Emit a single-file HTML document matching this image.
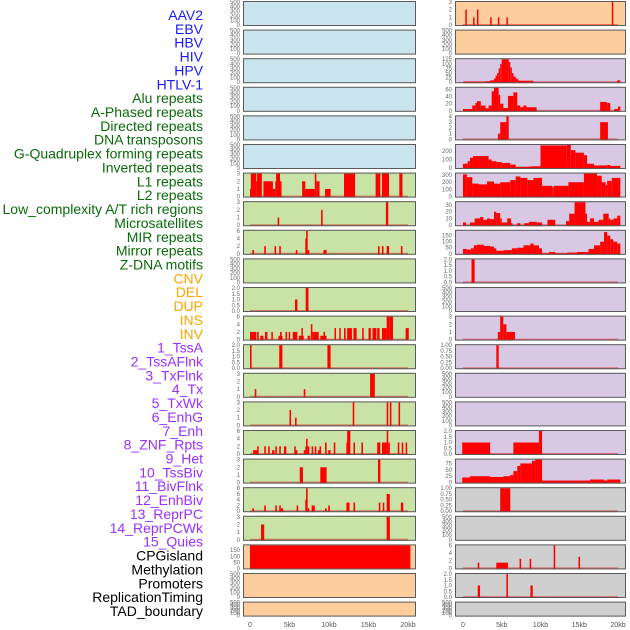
<!DOCTYPE html>
<html><head><meta charset="utf-8">
<style>
body{margin:0;background:#fff;width:630px;height:630px;overflow:hidden;font-family:"Liberation Sans",sans-serif}
svg{display:block}
</style></head>
<body>
<svg id="chart" width="630" height="630" xmlns="http://www.w3.org/2000/svg"></svg>
<script>
const labels=["AAV2","EBV","HBV","HIV","HPV","HTLV-1","Alu repeats","A-Phased repeats","Directed repeats","DNA transposons","G-Quadruplex forming repeats","Inverted repeats","L1 repeats","L2 repeats","Low_complexity A/T rich regions","Microsatellites","MIR repeats","Mirror repeats","Z-DNA motifs","CNV","DEL","DUP","INS","INV","1_TssA","2_TssAFlnk","3_TxFlnk","4_Tx","5_TxWk","6_EnhG","7_Enh","8_ZNF_Rpts","9_Het","10_TssBiv","11_BivFlnk","12_EnhBiv","13_ReprPC","14_ReprPCWk","15_Quies","CPGisland","Methylation","Promoters","ReplicationTiming","TAD_boundary"];
const labelGroups=[6,13,5,15,5];
const groupColors=["#1a1aff","#0a6a0a","#ffa500","#9b30ff","#000000"];
const xTicks=[0,5,10,15,20];
const xTickLabels=["0","5kb","10kb","15kb","20kb"];
const E=["0","100","200","300","400","500"];
const leftBg=["b","b","b","b","b","b","g","g","g","g","g","g","g","g","g","g","g","g","g","o","o","o"];
const rightBg=["o","o","p","p","p","p","p","p","p","p","p","p","p","p","p","p","p","q","q","q","q","q"];
const leftMax=[500,500,500,500,500,500,3,3,6,500,2,6,2,3,3,6,3,8,3,190,500,500];
const leftTicks=[E,E,E,E,E,E,["0","1","2","3"],["0","1","2","3"],["0","2","4","6"],E,["0.0","0.5","1.0","1.5","2.0"],["0","2","4","6"],["0.0","0.5","1.0","1.5","2.0"],["0","1","2","3"],["0","1","2","3"],["0","2","4","6"],["0","1","2","3"],["0","2","4","6","8"],["0","1","2","3"],["0","50","100","150"],E,E];
const rightMax=[3,500,125,65,4,270,320,34,190,2,500,3,1,500,500,2,90,1,500,6,2,500];
const rightTicks=[["0","1","2","3"],E,["0","25","50","75","100","125"],["0","20","40","60"],["0","1","2","3","4"],["0","100","200"],["0","100","200","300"],["0","10","20","30"],["0","50","100","150"],["0.0","0.5","1.0","1.5","2.0"],E,["0","1","2","3"],["0.00","0.25","0.50","0.75","1.00"],E,E,["0.0","0.5","1.0","1.5","2.0"],["0","25","50","75"],["0.00","0.25","0.50","0.75","1.00"],E,["0","2","4","6"],["0.0","0.5","1.0","1.5","2.0"],E];
const leftBars=[[],[],[],[],[],[],
[[0,0.1,1],[0.1,0.8,3],[0.8,0.9,2],[0.9,1.5,3],[1.7,2.9,2],[2.9,3.2,1],[3.2,3.3,2],[3.3,3.8,3],[3.8,3.9,2],[6.6,7,2],[7,8.2,1],[8.2,8.4,3],[8.4,8.8,2],[9.5,10.2,1],[11.9,13.3,3],[15.9,16.5,3],[16.7,17.6,3],[18.9,19.3,3]],
[[3.5,3.7,1],[9.0,9.2,2],[17.2,17.5,3]],
[[0.3,0.5,1],[1.8,2,2],[3.1,3.3,2],[3.7,3.9,2],[5.8,6,1],[7,7.1,4],[7.1,7.3,6],[7.3,7.5,1],[9.3,9.7,1],[16.2,16.4,2],[16.7,16.9,2],[17.3,17.6,2],[19.1,19.3,2]],
[],
[[5.7,6,1],[7.05,7.4,2]],
[[0,0.8,2],[0.9,1.1,2],[1.3,1.7,1],[1.9,2.2,2],[2.7,2.9,2],[3.6,4.1,1],[3.8,4.0,2],[4.5,4.6,2],[4.9,5,2],[5.4,6,2],[6.2,6.8,1],[6.5,6.6,3],[7.3,7.6,1],[7.7,7.9,4],[7.9,8.7,2],[8.9,9.7,1],[9.3,9.5,2],[10.7,10.8,3],[11.3,11.4,3],[11.9,12.1,3],[12.3,12.9,3],[13.1,13.5,3],[14.2,14.4,3],[15,15.3,3],[15.5,16,3],[16.1,16.4,3],[16.7,17.3,3],[17.3,17.7,6],[17.7,18.1,6],[19.7,20.1,3]],
[[0,0.2,2],[3.7,4.1,2],[9.8,10.2,2]],
[[0.6,0.8,1],[6.8,7,1],[15.2,15.8,3]],
[[5,5.2,2],[5.7,5.9,1],[13,13.2,3],[17.3,17.5,3],[17.7,17.9,3],[18.8,19,3]],
[[0.4,0.9,1],[0.9,1.1,2],[1.8,2,2],[2.3,2.5,2],[2.8,3.1,1],[3.2,3.4,2],[3.7,3.9,2],[4.3,4.6,2],[5.6,5.7,2],[5.7,6,1],[6.8,7,1],[7,7.1,2],[7.1,7.3,4],[7.3,7.5,2],[7.8,8,2],[8.2,8.4,2],[8.6,8.8,1],[8.8,9,2],[9.5,9.7,3],[9.9,10.2,1],[10.6,10.8,3],[12.2,12.4,3],[12.3,12.7,6],[13.1,13.2,3],[14.1,14.3,3],[16.1,16.5,3],[16.7,17.3,3],[17.3,17.5,6],[17.5,17.7,3],[18.7,18.9,3],[19.2,19.4,3],[19.7,19.8,3]],
[[6.3,6.7,2],[8.9,9.7,2],[16.2,16.5,3]],
[[0.3,0.5,1],[1.8,2,2],[3.2,3.4,2],[3.7,3.9,2],[3.9,4.2,1],[5.9,6.1,2],[7,7.1,4],[7.1,7.3,8],[7.3,7.5,1],[7.8,8.2,2],[9.5,9.7,1],[9.9,10.1,2],[12.2,12.6,3],[13.1,13.3,3],[16.3,16.5,3],[16.8,17,3],[17.3,17.7,6],[19.1,19.4,3]],
[[1.4,1.8,2],[17.3,17.7,3]],
[[0,20.3,190]],
[],[]];
const rightBars=[
[[0.3,0.4,2],[1.3,1.4,1],[1.8,1.9,2],[3.5,3.6,1],[4.5,4.6,1],[5.6,5.7,1],[19.2,19.3,3]],
[],
[[0.1,2.9,3],[2.9,3.5,5],[3.5,4,10],[4,4.2,20],[4.2,4.4,35],[4.4,4.6,50],[4.6,4.8,75],[4.8,5,100],[5,5.9,125],[5.9,6.1,110],[6.1,6.3,80],[6.3,6.5,50],[6.5,6.8,30],[6.8,7,20],[7,7.2,15],[7.2,9.1,8],[19.9,20.3,10]],
[[0,1.2,5],[1.2,1.6,15],[1.6,1.8,22],[1.8,2.3,27],[2.3,2.9,15],[2.9,3.3,7],[3.3,3.7,15],[3.7,4,55],[4,4.6,65],[4.6,4.8,45],[4.8,5.2,20],[5.2,5.8,8],[5.8,6.5,42],[6.5,7,52],[7,7.4,15],[7.4,7.8,10],[7.8,8.2,15],[8.2,9.5,10],[17.7,18.6,25],[18.6,19,22],[19.5,20,5],[20,20.3,12]],
[[4.5,4.8,1],[4.8,5.6,3],[5.6,5.9,4],[17.7,18.7,3]],
[[0,0.6,50],[0.6,0.9,80],[0.9,1.3,120],[1.3,3.3,140],[3.3,3.7,100],[3.7,4.3,80],[4.3,5,70],[5,6.1,60],[6.1,6.8,40],[6.8,8.7,15],[8.7,10,20],[10,13.4,265],[13.4,13.9,270],[13.9,14.5,210],[14.5,15.6,180],[15.6,16,150],[16,16.9,50],[16.9,18.6,30],[18.6,19,35],[19,20.3,25]],
[[0,0.5,310],[0.5,1.2,270],[1.2,2,180],[2,3.1,170],[3.1,4,210],[4,4.8,180],[4.8,6.1,200],[6.1,6.8,230],[6.8,7.4,280],[7.4,8.3,260],[8.3,9.1,230],[9.1,10.2,260],[10.2,11.5,150],[11.5,11.7,130],[11.7,13.6,150],[13.6,15.6,200],[15.6,17.3,320],[17.3,17.9,290],[17.9,18.4,200],[18.4,18.6,160],[18.6,19.2,220],[19.2,20.3,260]],
[[0,0.4,4],[0.9,1.5,4],[1.5,2.2,10],[2.2,2.6,12],[2.6,3.1,8],[3.1,3.5,10],[3.5,4,9],[4,4.3,20],[4.3,4.8,18],[4.8,5,10],[5,5.7,4],[5.7,6.2,10],[6.2,6.4,3],[7,7.4,3],[7.9,8.5,3],[8.5,9,5],[9,9.5,5],[9.5,10.2,4],[10.9,11.9,8],[13.3,13.7,6],[13.7,14.4,17],[14.4,15.8,34],[15.8,16,17],[16,16.4,5],[16.4,16.9,10],[16.9,17.5,5],[17.5,18.1,8],[18.1,18.8,17],[18.8,19,10],[19,19.4,8],[19.4,19.9,10],[19.9,20.3,14]],
[[0,0.5,40],[0.5,1,35],[1,1.4,45],[1.4,1.8,70],[1.8,2.7,75],[2.7,3.5,65],[3.5,4,60],[4,4.3,45],[4.3,5.2,25],[5.2,6.3,30],[6.3,7,45],[7,7.8,50],[7.8,8.7,70],[8.7,9.1,85],[9.1,9.8,70],[9.8,10.2,45],[10.2,11.1,5],[11.1,11.9,15],[11.9,13.4,5],[13.4,14.7,10],[14.7,16.2,15],[16.2,16.9,40],[16.9,17.7,70],[17.7,18.2,100],[18.2,18.6,180],[18.6,19,150],[19,19.4,120],[19.4,19.9,100],[19.9,20.3,85]],
[[1.1,1.5,2]],
[],
[[4.5,4.8,1],[4.8,5.2,3],[5.2,5.6,2],[5.6,6.7,1]],
[[4.3,4.6,1]],
[],[],
[[-0.1,3.5,1],[6.5,9.8,1],[9.8,10.2,2]],
[[-0.1,0.9,20],[0.9,3.5,25],[3.5,5.2,22],[5.2,6.1,25],[6.1,6.5,30],[6.5,7,45],[7,7.4,65],[7.4,8.9,75],[8.9,9.3,85],[9.3,10.2,90],[10.2,16.4,8],[16.4,18.2,12],[18.2,18.6,8],[18.6,20.3,12]],
[[4.8,6.1,1]],
[],
[[1.9,2.1,1.5],[4.3,5.8,1.5],[7.3,7.5,2.5],[8.6,8.8,2.5],[11.7,11.9,6],[14.9,15.1,3]],
[[1.9,2.2,1],[5.6,5.8,2],[8.7,9,1]],
[]];

const NS="http://www.w3.org/2000/svg";
const svg=document.getElementById('chart');
function mk(t,a,parent){const e=document.createElementNS(NS,t);for(const k in a)e.setAttribute(k,a[k]);(parent||svg).appendChild(e);return e;}
const bgColors={b:"#c9e4ec",g:"#c9e2a5",o:"#fecd9e",p:"#d9c8e3",q:"#cfcfcf"};
const cols=[{x0:243,x1:416,zero:250,pxkb:7.9,bg:leftBg,max:leftMax,ticks:leftTicks,bars:leftBars,side:"left"},
            {x0:455,x1:626,zero:463,pxkb:7.75,bg:rightBg,max:rightMax,ticks:rightTicks,bars:rightBars,side:"right"}];
cols.forEach(c=>{
  const xs=kb=>c.zero+kb*c.pxkb;
  for(let i=0;i<22;i++){
    const top=1+i*28.6;const h=(i===21)?15:25;
    const y0=top+h-1, y1=top+1;
    const g=mk('g',{});
    
    
    const cid='clip'+c.side+i;
    const cp=mk('clipPath',{id:cid},g);mk('rect',{x:c.x0,y:top,width:c.x1-c.x0,height:h},cp);
    mk('rect',{x:c.x0,y:top,width:c.x1-c.x0,height:h,fill:bgColors[c.bg[i]]},g);
    const ys=v=>y0-(v/c.max[i])*(y0-y1);
    const bg2=mk('g',{'clip-path':'url(#'+cid+')'},g);
    if(c.bars[i].length) mk('line',{x1:xs(0),x2:xs(20),y1:y0,y2:y0,stroke:"rgba(220,0,0,0.45)","stroke-width":2},bg2);
    c.bars[i].forEach(b=>{
      const r=mk('rect',{x:xs(b[0]),y:ys(b[2]),width:Math.max(1.5,xs(b[1])-xs(b[0])),height:y0-ys(b[2])+1,fill:"#ff0000"},bg2);
      
      
    });
    mk('rect',{x:c.x0+0.5,y:top+0.5,width:c.x1-c.x0-1,height:h-1,fill:"none",stroke:"#5a5a5a","stroke-width":1},g);
    c.ticks[i].forEach(t=>{
      const tx=mk('text',{x:c.x0-3,y:ys(parseFloat(t))+2,"font-size":6,fill:"#666","text-anchor":"end"},g);
      tx.textContent=t;
      
      
    });
  }
  xTicks.forEach((v,k)=>{
    const t=mk('text',{x:xs(v),y:627,"font-size":7,fill:"#555","text-anchor":"middle"});
    t.textContent=xTickLabels[k];
    
    
  });
});
let idx=0;
labelGroups.forEach((n,gi)=>{
  for(let j=0;j<n;j++){
    const t=mk('text',{x:203,y:20+idx*13.86,"font-size":14,fill:groupColors[gi],"text-anchor":"end"});
    t.textContent=labels[idx];
    
    
    idx++;
  }
});
</script>
</body></html>
